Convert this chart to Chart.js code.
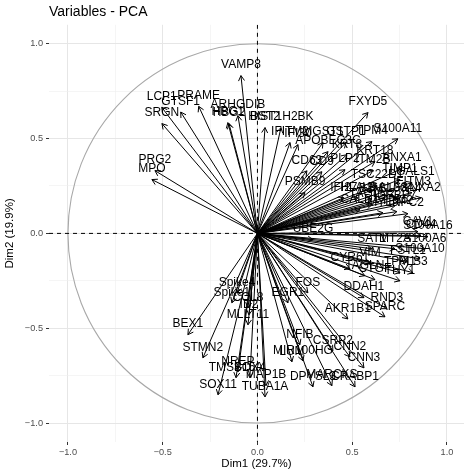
<!DOCTYPE html>
<html lang="en">
<head>
<meta charset="UTF-8">
<title>Variables - PCA</title>
<style>
  body { margin: 0; background: #fff; }
  #wrap { width: 464px; height: 469px; }
</style>
</head>
<body>
<div id="wrap"><canvas id="pca"></canvas></div>
<script src="https://cdn.jsdelivr.net/npm/chart.js"></script>
<script>
// variable coordinates on the first two dimensions
const genes = ['VAMP8','LCP1','GTSF1','PRAME','SRGN','ARHGDIB','HBG1','HBG2','BST2','HIST1H2BK',
  'IFITM2','IFI30','PRG2','MPO','FXYD5','S100A11','MGST1','GSTP1','TPM4','APOBEC3C',
  'KRT8','KRT18','ANXA1','TIMP1','LGALS1','TSC22D1','IFITM3','CD63','CD9','PLP2',
  'ITM2B','PSMB9','IFI27','HLA-B','B2M','LGALS3','S100A4','ANXA2','TAGLN2','IGFBP7',
  'MYL9','TPM2','NPC2','CALD1','CAV1','S100A16','CD44','SAT1','MT2A','S100A6',
  'S100A10','FSTL1','VIM','CYR61','TAGLN','TPM1','PLS3','CTGF','THY1','DDAH1',
  'RND3','SPARC','AKR1B1','FOS','EGR1','UBE2G','NFIB','MIR100HG','LUM','CSRP2',
  'CNN2','CNN3','DPYSL3','MARCKS','CRABP1','MAP1B','TUBA1A','SOX4','NREP','TMSB15A',
  'SOX11','STMN2','BEX1','Spike4','Spike1','CCL8','ID2','MLLT11'];
const dim1 = [-0.087,-0.505,-0.405,-0.31,-0.504,-0.103,-0.156,-0.15,0.04,0.124,
  0.172,0.214,-0.541,-0.557,0.583,0.741,0.346,0.467,0.604,0.372,
  0.472,0.62,0.763,0.752,0.815,0.631,0.815,0.261,0.34,0.462,
  0.609,0.251,0.456,0.53,0.599,0.673,0.752,0.863,0.604,0.726,
  0.662,0.736,0.794,0.541,0.847,0.9,0.863,0.604,0.726,0.884,
  0.858,0.794,0.594,0.488,0.567,0.752,0.821,0.62,0.752,0.562,
  0.683,0.673,0.477,0.266,0.161,0.293,0.224,0.24,0.182,0.398,
  0.488,0.562,0.293,0.393,0.515,0.045,0.04,-0.04,-0.103,-0.113,
  -0.208,-0.288,-0.367,-0.108,-0.135,-0.05,-0.045,-0.05];
const dim2 = [0.832,0.665,0.64,0.67,0.579,0.621,0.584,0.579,0.558,0.558,
  0.479,0.468,0.331,0.284,0.637,0.499,0.479,0.479,0.484,0.431,
  0.415,0.379,0.342,0.284,0.268,0.252,0.215,0.33,0.325,0.336,
  0.331,0.215,0.188,0.188,0.183,0.188,0.183,0.188,0.152,0.146,
  0.109,0.115,0.104,0.125,0.009,-0.017,-0.012,-0.081,-0.081,-0.081,
  -0.134,-0.149,-0.155,-0.186,-0.223,-0.207,-0.207,-0.244,-0.25,-0.339,
  -0.397,-0.44,-0.451,-0.313,-0.366,-0.033,-0.587,-0.672,-0.677,-0.619,
  -0.651,-0.709,-0.809,-0.803,-0.809,-0.803,-0.862,-0.761,-0.73,-0.761,
  -0.851,-0.656,-0.534,-0.313,-0.366,-0.392,-0.429,-0.482];
const tickValues = [-1, -0.75, -0.5, -0.25, 0, 0.25, 0.5, 0.75, 1];

Chart.defaults.font.family = '"Liberation Sans", Arial, sans-serif';

const isMajor = v => Math.abs(v * 2 - Math.round(v * 2)) < 1e-9;
const fmt = v => isMajor(v) ? (v < 0 ? '\u2212' : '') + Math.abs(v).toFixed(1) : '';

// circle, dashed zero lines, arrow heads and labels
const pcaDecor = {
  id: 'pcaDecor',
  beforeDatasetsDraw(chart) {
    const {ctx, chartArea: a, scales: {x, y}} = chart;
    const x0 = x.getPixelForValue(0), y0 = y.getPixelForValue(0);
    ctx.save();
    ctx.beginPath();
    ctx.rect(a.left, a.top, a.right - a.left, a.bottom - a.top);
    ctx.clip();
    ctx.strokeStyle = '#a8a8a8';
    ctx.lineWidth = 1.1;
    ctx.beginPath();
    ctx.ellipse(x0, y0, x.getPixelForValue(1) - x0, y0 - y.getPixelForValue(1), 0, 0, 2 * Math.PI);
    ctx.stroke();
    ctx.strokeStyle = '#000';
    ctx.lineWidth = 1;
    ctx.setLineDash([4, 4]);
    ctx.beginPath();
    ctx.moveTo(a.left, y0); ctx.lineTo(a.right, y0);
    ctx.moveTo(x0, a.top); ctx.lineTo(x0, a.bottom);
    ctx.stroke();
    ctx.restore();
  },
  afterDatasetsDraw(chart) {
    const ctx = chart.ctx;
    const L = 6, A = Math.PI / 6;
    ctx.save();
    ctx.strokeStyle = '#000';
    ctx.lineWidth = 1;
    chart.data.datasets.forEach((ds, i) => {
      const pts = chart.getDatasetMeta(i).data;
      const p0 = pts[0], p1 = pts[1];
      const ang = Math.atan2(p1.y - p0.y, p1.x - p0.x);
      ctx.beginPath();
      ctx.moveTo(p1.x - L * Math.cos(ang - A), p1.y - L * Math.sin(ang - A));
      ctx.lineTo(p1.x, p1.y);
      ctx.lineTo(p1.x - L * Math.cos(ang + A), p1.y - L * Math.sin(ang + A));
      ctx.stroke();
    });
    ctx.fillStyle = '#000';
    ctx.font = '12px "Liberation Sans", Arial, sans-serif';
    ctx.textAlign = 'center';
    ctx.textBaseline = 'middle';
    chart.data.datasets.forEach((ds, i) => {
      const p1 = chart.getDatasetMeta(i).data[1];
      ctx.fillText(ds.label, p1.x, p1.y - 10.5);
    });
    ctx.restore();
  }
};

const gridOpts = {
  color: c => isMajor(c.tick.value) ? '#e6e6e6' : '#efefef',
  lineWidth: c => isMajor(c.tick.value) ? 1 : 0.6,
  tickLength: 3,
  tickWidth: 1,
  tickColor: c => isMajor(c.tick.value) ? '#333' : 'rgba(0,0,0,0)'
};

new Chart(document.getElementById('pca'), {
  type: 'scatter',
  data: {
    datasets: genes.map((g, i) => ({
      label: g,
      data: [{x: 0, y: 0}, {x: dim1[i], y: dim2[i]}],
      showLine: true,
      borderColor: '#000',
      borderWidth: 1,
      pointRadius: 0,
      pointHoverRadius: 0
    }))
  },
  options: {
    responsive: true,
    maintainAspectRatio: false,
    animation: false,
    layout: { padding: 0 },
    plugins: {
      legend: { display: false },
      tooltip: { enabled: false },
      title: {
        display: true,
        text: 'Variables - PCA',
        align: 'start',
        fullSize: false,
        color: '#000',
        font: { size: 14, weight: 'normal' },
        padding: { top: 4, bottom: 4 }
      }
    },
    scales: {
      x: {
        type: 'linear',
        min: -1.1,
        max: 1.09,
        afterBuildTicks: s => { s.ticks = tickValues.map(v => ({value: v})); },
        afterFit: s => { s.height = 27; },
        border: { display: false },
        grid: gridOpts,
        ticks: { callback: fmt, color: '#4d4d4d', font: { size: 9.2 }, padding: 2, maxRotation: 0, autoSkip: false },
        title: { display: true, text: 'Dim1 (29.7%)', color: '#000', font: { size: 11.5 }, padding: { top: 0, bottom: -2 } }
      },
      y: {
        type: 'linear',
        min: -1.1,
        max: 1.1,
        afterBuildTicks: s => { s.ticks = tickValues.map(v => ({value: v})); },
        afterFit: s => { s.width = 49; },
        border: { display: false },
        grid: gridOpts,
        ticks: { callback: fmt, color: '#4d4d4d', font: { size: 9.2 }, padding: 3, autoSkip: false },
        title: { display: true, text: 'Dim2 (19.9%)', color: '#000', font: { size: 11.5 }, padding: { top: 3, bottom: 0 } }
      }
    }
  },
  plugins: [pcaDecor]
});
</script>
</body>
</html>
